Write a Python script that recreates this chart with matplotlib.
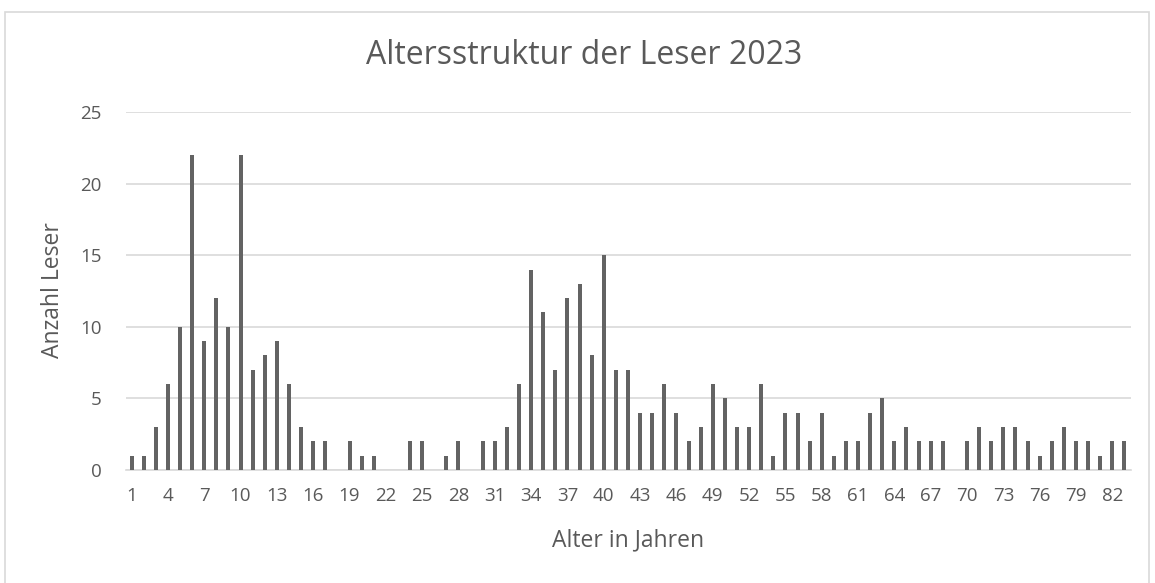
import matplotlib
matplotlib.use("Agg")
import matplotlib.pyplot as plt
from matplotlib.patches import Rectangle

ages = list(range(1, 84))
counts = [1, 1, 3, 6, 10, 22, 9, 12, 10, 22,
          7, 8, 9, 6, 3, 2, 2, 0, 2, 1,
          1, 0, 0, 2, 2, 0, 1, 2, 0, 2,
          2, 3, 6, 14, 11, 7, 12, 13, 8, 15,
          7, 7, 4, 4, 6, 4, 2, 3, 6, 5,
          3, 3, 6, 1, 4, 4, 2, 4, 1, 2,
          2, 4, 5, 2, 3, 2, 2, 2, 0, 2,
          3, 2, 3, 3, 2, 1, 2, 3, 2, 2,
          1, 2, 2]
yticks = [0, 5, 10, 15, 20, 25]
title = "Altersstruktur der Leser 2023"
xlabel = "Alter in Jahren"
ylabel = "Anzahl Leser"

plt.rcParams['font.family'] = ['Open Sans', 'DejaVu Sans']
txt = '#595959'
W, H = 1155, 583
fig = plt.figure(figsize=(W/100, H/100), dpi=100)
fig.patch.set_facecolor('white')

# outer chart border
fig.add_artist(Rectangle((5/W, 0 - 0.01), (1149-5)/W, (H-12)/H + 0.01,
                         transform=fig.transFigure, fill=False,
                         edgecolor='#d9d9d9', linewidth=1.2))

left, right, top, bottom = 125.5, 1130.5, 112, 470
ax = fig.add_axes([left/W, 1-bottom/H, (right-left)/W, (bottom-top)/H])
x = list(range(len(ages)))
ax.bar(x, counts, width=0.33, color='#636363', zorder=3)
ax.set_xlim(-0.5, len(ages)-0.5)
ax.set_ylim(0, 25)
ax.set_yticks(yticks)
ax.set_yticklabels([str(v) for v in yticks])
ax.yaxis.grid(True, color='#d9d9d9', linewidth=1.2, zorder=0)
ax.set_axisbelow(True)
ticks = [i for i in x if i % 3 == 0]
ax.set_xticks(ticks)
ax.set_xticklabels([str(ages[i]) for i in ticks])
for s in ['top', 'right', 'left']:
    ax.spines[s].set_visible(False)
ax.spines['bottom'].set_color('#d9d9d9')
ax.spines['bottom'].set_linewidth(1.2)
ax.tick_params(axis='both', length=0, labelsize=13.5, colors=txt)
ax.tick_params(axis='x', pad=12)
ax.tick_params(axis='y', pad=17)

fig.text(584/W, 1-55/H, title, ha='center', va='center', fontsize=23, color=txt)
fig.text(628.5/W, 1-540/H, xlabel, ha='center', va='center', fontsize=16.5, color=txt)
fig.text(53/W, 1-290/H, ylabel, ha='center', va='center', fontsize=16.5, color=txt, rotation=90)

fig.savefig('out.png', dpi=100, facecolor='white')
